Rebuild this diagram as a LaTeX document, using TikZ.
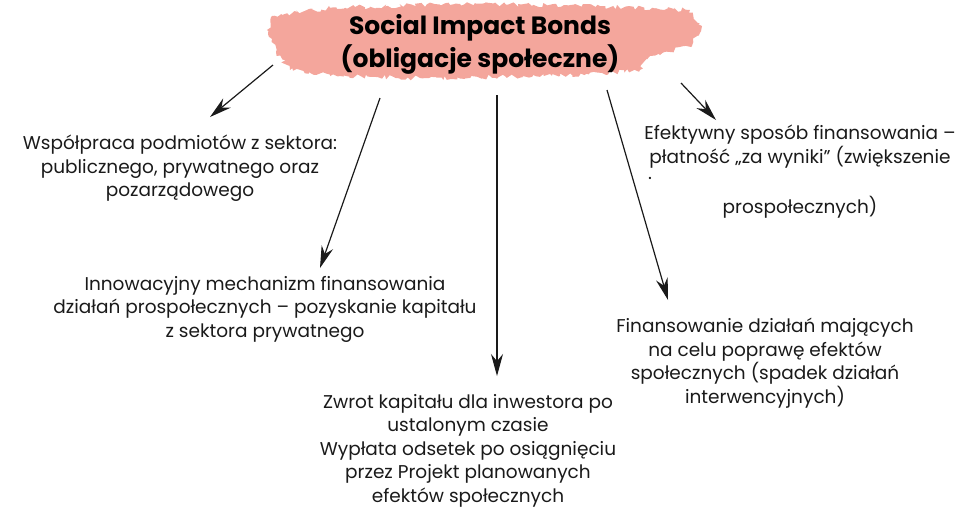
\documentclass[tikz,border=0pt]{standalone}
\usepackage{fontspec}
\setmainfont{Poppins}
\usetikzlibrary{arrows.meta,decorations.pathmorphing}
\definecolor{brush}{HTML}{F4A69C}
\definecolor{ink}{HTML}{1A1A1A}
\begin{document}
\begin{tikzpicture}[x=1pt,y=-1pt,
  body/.style={align=center,text=ink,font=\fontsize{18.5}{23.5}\selectfont,inner sep=0pt,anchor=north},
  arr/.style={draw=ink,line width=1.2pt,-{Stealth[length=22pt,width=12pt]}}]
\useasboundingbox (0,0) rectangle (962,507);
% brush stroke
\fill[brush,decorate,decoration={random steps,segment length=3pt,amplitude=2.5pt}]
  (272,16) -- (330,8) -- (460,4) -- (600,6) -- (690,10) -- (702,26) -- (692,46) -- (650,56) -- (640,70) -- (560,76) -- (420,78) -- (340,76) -- (290,70) -- (276,52) -- (268,34) -- cycle;
\node[font=\fontsize{25}{33}\selectfont\bfseries,align=center,text=black,inner sep=0pt] (title) at (480,44) {Social Impact Bonds\\(obligacje społeczne)};
% texts
\node[body] (t1) at (180,135) {Współpraca podmiotów z sektora:\\publicznego, prywatnego oraz\\pozarządowego};
\node[body] (t2) at (265,276) {Innowacyjny mechanizm finansowania\\działań prospołecznych – pozyskanie kapitału\\z sektora prywatnego};
\node[body] (t3) at (468,394) {Zwrot kapitału dla inwestora po\\ustalonym czasie\\Wypłata odsetek po osiągnięciu\\przez Projekt planowanych\\efektów społecznych};
\node[body] (t4) at (800,125) {Efektywny sposób finansowania –\\płatność „za wyniki” (zwiększenie};
\node[body,anchor=north west] (t4dot) at (648,177) {.};
\node[body] (t4b) at (800,196) {prospołecznych)};
\node[body] (t5) at (765,318) {Finansowanie działań mających\\na celu poprawę efektów\\społecznych (spadek działań\\interwencyjnych)};
% arrows
\coordinate (a1s) at (273,65); \coordinate (a1e) at (210,117);
\coordinate (a2s) at (380,98); \coordinate (a2e) at (320,268);
\coordinate (a3s) at (497,95); \coordinate (a3e) at (497,376);
\coordinate (a4s) at (607,90); \coordinate (a4e) at (668,300);
\coordinate (a5s) at (681,83); \coordinate (a5e) at (716,120);
\draw[arr] (a1s) -- (a1e);
\draw[arr] (a2s) -- (a2e);
\draw[arr] (a3s) -- (a3e);
\draw[arr] (a4s) -- (a4e);
\draw[arr] (a5s) -- (a5e);
\end{tikzpicture}
\end{document}
